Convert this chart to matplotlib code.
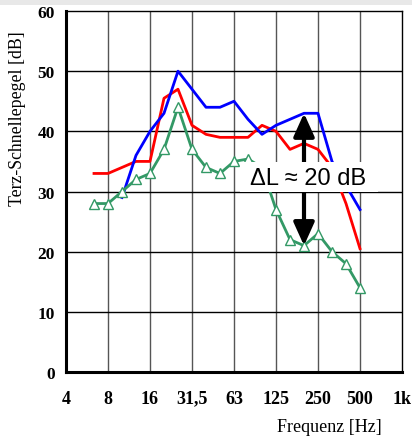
import numpy as np
import matplotlib
matplotlib.use("Agg")
import matplotlib.pyplot as plt
from matplotlib.patches import Rectangle

# Third-octave band centre frequencies (nominal) [Hz]
bands = [6.3, 8, 10, 12.5, 16, 20, 25, 31.5, 40, 50, 63, 80, 100, 125, 160, 200, 250, 315, 400, 500]

red_vals = [33, 33, 34, 35, 35, 45.5, 47, 41, 39.5, 39, 39, 39, 41, 40, 37, 38, 37, 34, 28, 20.5]
blue_bands = [10, 12.5, 16, 20, 25, 31.5, 40, 50, 63, 80, 100, 125, 160, 200, 250, 315, 400, 500]
blue_vals = [29, 36, 40, 43, 50, 47, 44, 44, 45, 42, 39.5, 41, 42, 43, 43, 35, 31, 27]
green_vals = [28, 28, 30, 32, 33, 37, 44, 37, 34, 33, 35, 35.4, 34, 27, 22, 21, 23, 20, 18, 14]

tick_freqs = [4, 8, 16, 32, 64, 128, 256, 512, 1024]
tick_labels = ["4", "8", "16", "31,5", "63", "125", "250", "500", "1k"]
y_ticks = [0, 10, 20, 30, 40, 50, 60]

arrow_freq = 200
arrow_top, arrow_bottom = 43, 21
annot_text = "\u0394L \u2248 20 dB"


def exact(f):
    f = np.asarray(f, dtype=float)
    return 2.0 ** (np.round(3 * np.log2(f)) / 3)


fig = plt.figure(figsize=(4.12, 4.39), dpi=100)
fig.patch.set_facecolor("white")
ax = fig.add_axes([66 / 412, 1 - 373 / 439, 336 / 412, 361 / 439])

ax.set_xscale("log", base=2)
ax.set_xlim(4, 1024)
ax.set_ylim(0, 60)

# grid
for f in tick_freqs[1:-1]:
    ax.axvline(f, color="#555555", lw=1.0, zorder=1)
for y in y_ticks[1:-1]:
    ax.axhline(y, color="black", lw=1.0, zorder=1)

ax.plot(exact(bands), red_vals, color="#ff0000", lw=2.0, zorder=3)
ax.plot(exact(blue_bands), blue_vals, color="#0000ff", lw=2.0, zorder=3)
ax.plot(exact(bands), green_vals, color="#339966", lw=2.0, marker="^",
        markersize=7, markerfacecolor="white", markeredgecolor="#339966",
        markeredgewidth=1.0, zorder=4)

# arrow
ax.annotate("", xy=(exact(arrow_freq), arrow_top), xytext=(exact(arrow_freq), arrow_bottom),
            arrowprops=dict(arrowstyle="<|-|>,head_length=1.0,head_width=0.45",
                            mutation_scale=14, lw=3, color="black",
                            shrinkA=0, shrinkB=0), zorder=5)

# white box with text
x0 = 4 * 2 ** ((240 - 66) / 42)
x1 = 4 * 2 ** ((378 - 66) / 42)
ax.add_patch(Rectangle((x0, 29.9), x1 - x0, 5.0, facecolor="white", edgecolor="none", zorder=6))
ax.text(4 * 2 ** ((308 - 66) / 42), 32.3, annot_text, ha="center", va="center",
        fontsize=17, family="Liberation Sans", zorder=7)

ax.set_xticks(tick_freqs)
ax.set_xticklabels(tick_labels)
ax.xaxis.set_minor_locator(matplotlib.ticker.NullLocator())
ax.set_yticks(y_ticks)
ax.tick_params(axis="x", length=0, pad=22)
ax.tick_params(axis="y", length=0, pad=8)
for lab in ax.get_xticklabels():
    lab.set_fontfamily("Liberation Serif")
    lab.set_fontweight("bold")
    lab.set_fontsize(13)
    lab.set_verticalalignment("baseline")
for lab in ax.get_yticklabels():
    lab.set_fontfamily("Liberation Serif")
    lab.set_fontweight("bold")
    lab.set_fontsize(12.5)

for s in ["left", "bottom"]:
    ax.spines[s].set_linewidth(2.2)
for s in ["top", "right"]:
    ax.spines[s].set_linewidth(1.0)
for s in ax.spines.values():
    s.set_zorder(8)

fig.text(18 / 412, 1 - 119 / 439, "Terz-Schnellepegel [dB]", rotation=90,
         ha="center", va="center", fontsize=12.8, family="Liberation Serif")
fig.text(329 / 412, 1 - 428 / 439, "Frequenz [Hz]", ha="center", va="center",
         fontsize=13, family="Liberation Serif")

# light gray strip at top
fig.patches.append(Rectangle((0, 1 - 6 / 439), 1, 6 / 439, transform=fig.transFigure,
                             facecolor="#e8e8e8", edgecolor="none", zorder=0))

fig.savefig("out.png", dpi=100)
